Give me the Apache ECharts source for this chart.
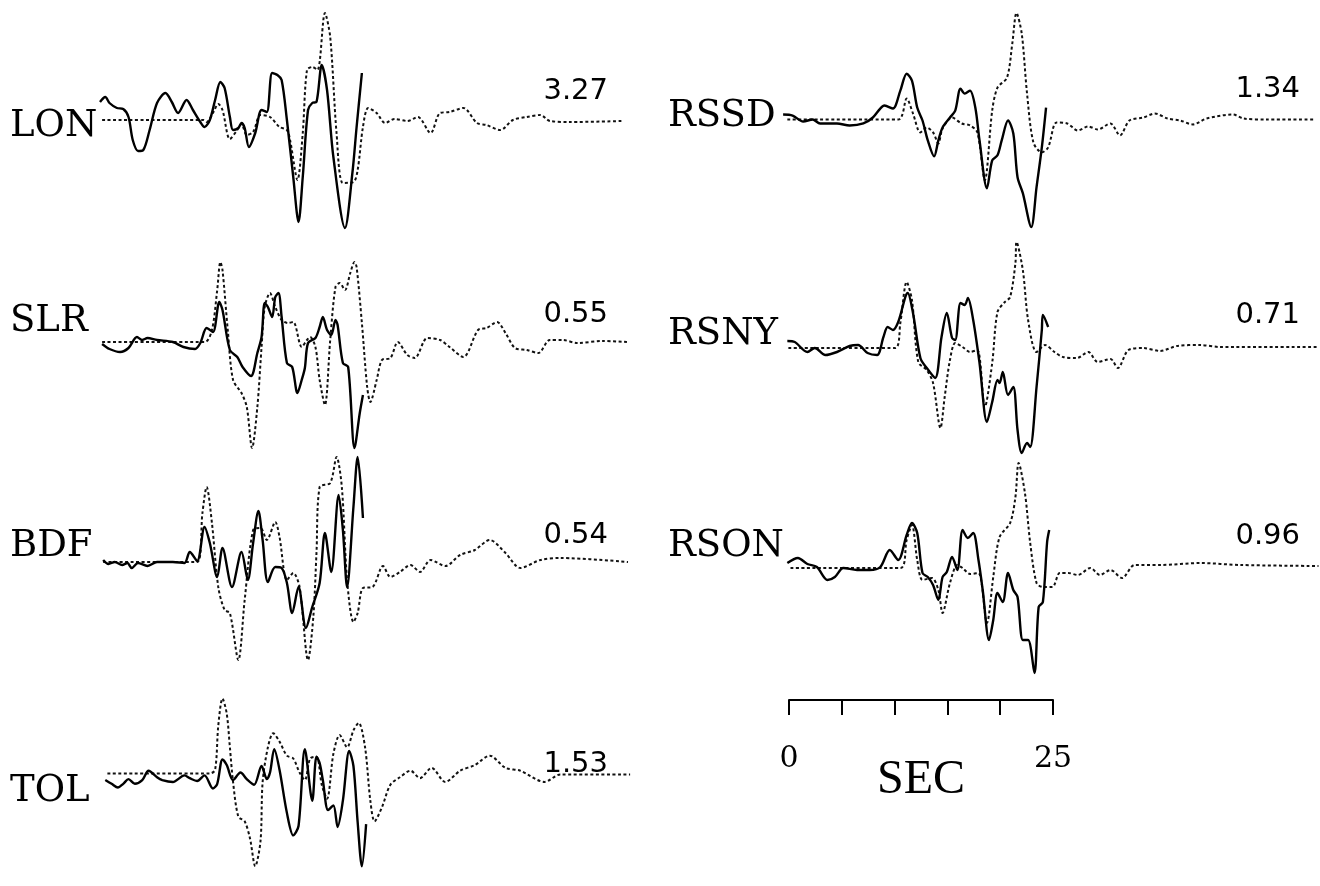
<!DOCTYPE html>
<html>
<head>
<meta charset="utf-8">
<script src="https://cdn.jsdelivr.net/npm/echarts@6/dist/echarts.min.js"></script>
<style>
html,body{margin:0;padding:0;background:#fff;}
#chart{width:1320px;height:886px;}
</style>
</head>
<body>
<div id="chart"></div>
<script>
// ---- DATA: [time (s), relative amplitude] ----
const stations = ['LON','SLR','BDF','TOL','RSSD','RSNY','RSON'];
const amplitudes = ['3.27','0.55','0.54','1.53','1.34','0.71','0.96'];
const scaleTickLabels = ['0','25'];
const scaleName = 'SEC';

const lonSolid = [[0.0,18],[0.5,23],[0.9,17],[1.6,12],[2.2,11],[2.7,3],[3.1,-20],[3.6,-31],[4.1,-30],[4.7,-10],[5.4,17],[6.2,27],[6.8,18],[7.4,7],[8.2,20],[8.8,10],[9.5,-2],[9.9,-7],[10.4,0],[10.9,20],[11.4,38],[11.8,32],[12.3,3],[12.6,-10],[13.1,-8],[13.4,-3],[13.7,-8],[14.1,-27],[14.7,-13],[15.3,10],[15.8,8],[16.3,47],[16.8,45],[17.2,40],[17.7,0],[18.3,-57],[18.8,-102],[19.2,-57],[19.7,10],[20.1,17],[20.5,18],[21.0,55],[21.5,30],[22.1,-37],[23.2,-108],[23.9,-53],[24.3,-7],[24.8,47]];
const lonDotted = [[0.2,0],[9.8,0],[10.1,-2],[10.7,7],[11.2,16],[11.6,10],[12.3,-19],[13.0,-10],[13.4,-4],[13.9,-15],[14.5,-12],[15.2,5],[16.1,3],[17.0,-7],[17.7,-10],[18.0,-20],[18.7,-60],[19.2,-13],[19.6,50],[20.1,53],[20.6,50],[21.3,107],[21.8,83],[22.4,-13],[23.0,-63],[24.0,-62],[24.4,-50],[24.9,-7],[25.4,12],[26.2,7],[27.0,-3],[27.9,1],[29.1,-1],[30.1,3],[31.3,-13],[32.2,7],[33.1,8],[34.4,12],[35.7,-3],[36.6,-5],[37.9,-10],[39.1,0],[40.4,3],[41.7,5],[42.6,-1],[44.5,-2],[49.5,-1]];

const slrSolid = [[0.2,-2],[0.9,-7],[1.9,-10],[2.7,-6],[3.5,5],[4.0,2],[4.5,4],[5.4,2],[6.9,0],[7.9,-5],[9.0,-7],[9.5,-1],[10.1,14],[10.7,10],[11.3,40],[11.6,32],[12.3,-8],[13.0,-15],[13.5,-25],[14.3,-34],[14.9,-11],[15.3,5],[15.6,39],[15.9,35],[16.3,25],[16.6,45],[16.9,49],[17.2,25],[17.7,-21],[18.2,-25],[18.7,-51],[19.1,-38],[19.4,-26],[19.7,-1],[20.4,4],[20.8,15],[21.1,25],[21.5,12],[21.9,7],[22.3,22],[22.5,17],[23.0,-21],[23.5,-25],[24.1,-106],[24.6,-71],[24.9,-53]];
const slrDotted = [[0.2,0],[9.9,0],[10.6,12],[11.1,52],[11.4,80],[11.6,72],[12.1,12],[12.6,-38],[13.4,-51],[13.9,-65],[14.4,-106],[14.9,-65],[15.3,-5],[15.6,35],[16.1,49],[16.6,35],[17.2,22],[17.8,19],[18.3,20],[19.1,-5],[19.6,2],[19.9,5],[20.4,-5],[20.8,-38],[21.3,-63],[21.8,2],[22.3,55],[22.7,59],[23.2,52],[23.7,69],[24.1,80],[24.3,75],[24.8,19],[25.3,-45],[25.6,-60],[26.2,-38],[26.7,-18],[27.5,-16],[28.2,0],[29.1,-13],[29.8,-16],[31.0,4],[32.2,2],[33.1,-5],[34.4,-15],[35.8,12],[36.6,14],[37.6,20],[38.4,9],[39.3,-6],[40.4,-8],[41.5,-11],[42.6,2],[43.8,2],[45.2,-1],[47.6,1],[49.9,0]];

const bdfSolid = [[0.3,2],[0.8,-2],[1.4,0],[2.1,-3],[2.6,-1],[3.0,-6],[3.6,-1],[4.5,-4],[5.4,0],[6.9,0],[8.0,-1],[8.5,10],[9.2,1],[9.9,35],[10.4,19],[11.1,-15],[11.6,14],[12.5,-25],[13.4,10],[14.0,-18],[14.5,19],[15.0,51],[15.4,22],[15.9,-20],[16.6,-5],[17.2,-6],[17.7,-21],[18.2,-51],[18.8,-25],[19.5,-66],[20.1,-45],[20.8,-21],[21.3,29],[21.9,-10],[22.6,67],[23.0,32],[23.4,-25],[24.0,55],[24.4,105],[24.9,44]];
const bdfDotted = [[0.3,0],[9.2,0],[9.7,49],[10.1,75],[10.6,39],[11.2,-25],[11.8,-48],[12.3,-51],[13.1,-98],[13.7,-38],[14.5,32],[15.2,34],[15.8,22],[16.6,40],[17.0,25],[17.7,-18],[18.3,-11],[18.9,-25],[19.7,-98],[20.2,-55],[20.5,9],[20.8,75],[21.8,79],[22.4,105],[22.9,75],[23.4,-18],[24.0,-60],[24.4,-51],[24.9,-26],[25.8,-25],[26.8,-4],[27.5,-15],[28.4,-10],[29.4,-3],[30.3,-10],[31.3,2],[32.7,-4],[34.1,7],[35.5,12],[36.9,22],[38.4,9],[39.8,-6],[41.7,2],[43.6,4],[50.0,0]];

const tolSolid = [[0.5,-7],[1.1,-11],[1.7,-15],[2.2,-11],[2.7,-6],[3.3,-11],[4.0,-7],[4.6,3],[5.4,-4],[5.9,-7],[6.9,-9],[8.0,-2],[8.5,-5],[9.2,-8],[9.9,-2],[10.7,-16],[11.1,-11],[11.6,15],[12.0,9],[12.6,-7],[13.3,1],[13.9,-6],[14.6,-12],[15.3,8],[15.8,-6],[16.1,1],[16.5,26],[17.0,4],[17.7,-42],[18.3,-66],[18.8,-56],[19.4,26],[20.1,-29],[20.5,18],[20.8,11],[21.1,-7],[21.6,-39],[22.1,-34],[22.5,-57],[23.0,-29],[23.6,24],[24.0,8],[24.4,-52],[24.8,-99],[25.2,-54]];
const tolDotted = [[0.7,0],[10.4,0],[10.9,4],[11.2,51],[11.6,80],[12.0,64],[12.3,28],[12.6,-9],[13.1,-46],[13.7,-51],[14.2,-69],[14.7,-99],[15.2,-72],[15.4,-9],[15.9,28],[16.4,43],[17.0,34],[17.7,19],[18.3,16],[18.9,1],[19.4,-7],[19.9,16],[20.5,18],[21.0,-12],[21.5,-27],[22.1,21],[22.7,41],[23.4,28],[24.0,46],[24.5,54],[25.1,28],[25.6,-29],[26.0,-51],[26.7,-36],[27.5,-12],[28.4,-4],[29.4,3],[30.3,-5],[31.4,6],[32.7,-9],[34.1,3],[35.5,9],[36.9,19],[38.4,6],[39.8,3],[42.1,-9],[43.6,-1],[50.2,-1]];

const rssdSolid = [[0.2,5],[1.1,4],[2.1,-2],[3.0,0],[3.7,-4],[5.3,-4],[6.5,-6],[7.8,-4],[8.7,2],[9.4,11],[9.8,14],[10.6,11],[11.3,29],[11.9,46],[12.4,39],[12.9,12],[13.4,-1],[13.9,-21],[14.5,-37],[14.9,-21],[15.3,-8],[16.0,2],[16.5,9],[17.0,31],[17.4,26],[17.9,29],[18.4,12],[18.8,-21],[19.5,-69],[20.0,-41],[20.5,-36],[20.9,-21],[21.5,-1],[22.0,-14],[22.4,-58],[22.9,-74],[23.7,-108],[24.2,-68],[24.7,-28],[25.1,12]];
const rssdDotted = [[0.6,0],[11.1,0],[11.9,21],[12.5,6],[13.2,-13],[13.8,-8],[14.4,-13],[14.9,-24],[15.3,-9],[16.2,2],[17.1,-4],[17.9,-6],[18.6,-13],[19.3,-61],[20.0,9],[20.5,32],[21.4,42],[21.9,76],[22.3,107],[22.8,86],[23.3,26],[23.9,-23],[24.7,-33],[25.3,-28],[26.1,-3],[27.1,-4],[28.1,-11],[29.1,-7],[30.0,-10],[31.2,-4],[32.1,-16],[33.0,-1],[34.3,2],[35.4,6],[36.6,1],[37.8,-1],[39.0,-5],[40.3,1],[42.8,5],[43.8,1],[46.0,0],[50.4,0]];

const rsnySolid = [[0.6,7],[1.3,6],[2.5,-4],[3.2,0],[4.2,-7],[5.3,-4],[6.5,2],[7.3,3],[8.2,-5],[9.1,-7],[9.7,11],[10.1,21],[10.6,18],[11.1,26],[12.0,55],[12.5,35],[13.2,-10],[13.8,-20],[14.6,-30],[15.2,11],[15.7,35],[16.2,10],[16.5,8],[17.0,45],[17.4,43],[17.7,50],[18.2,28],[18.8,-15],[19.5,-74],[20.0,-54],[20.5,-32],[20.7,-35],[21.0,-24],[21.5,-47],[22.0,-39],[22.4,-82],[22.8,-105],[23.3,-95],[23.6,-99],[24.2,-39],[24.7,18],[24.8,33],[25.3,21]];
const rsnyDotted = [[0.7,0],[10.8,0],[11.3,25],[11.9,66],[12.4,48],[13.0,-14],[13.8,-22],[14.4,-35],[15.1,-80],[15.5,-49],[16.0,-12],[16.5,5],[17.2,1],[17.9,-4],[18.6,-2],[19.3,-59],[20.0,-15],[20.5,36],[21.2,46],[21.7,51],[22.2,85],[22.3,106],[22.9,78],[23.4,28],[24.2,-4],[25.0,3],[25.9,-4],[26.7,-9],[28.0,-10],[29.1,-4],[30.0,-14],[31.2,-11],[31.9,-20],[32.9,-2],[34.3,0],[35.9,-3],[37.5,2],[39.7,3],[41.6,1],[50.8,1]];

const rsonSolid = [[0.6,5],[1.6,10],[2.5,4],[3.4,1],[4.4,-12],[5.1,-9],[5.9,0],[7.2,-2],[8.4,-2],[9.4,1],[10.3,18],[11.1,8],[11.9,33],[12.4,45],[12.9,35],[13.4,-5],[13.9,-9],[14.4,-17],[14.9,-32],[15.3,-9],[15.7,-4],[16.2,11],[16.7,-2],[17.2,38],[17.7,30],[18.2,35],[18.7,8],[19.1,-22],[19.7,-72],[20.1,-52],[20.5,-25],[21.0,-34],[21.5,-5],[22.0,-22],[22.4,-29],[22.9,-72],[23.4,-72],[24.0,-105],[24.4,-39],[24.8,-34],[25.2,26],[25.4,38]];
const rsonDotted = [[0.9,0],[11.3,0],[11.9,28],[12.4,43],[12.9,8],[13.4,-12],[14.3,-10],[14.9,-22],[15.3,-45],[16.0,-15],[16.7,3],[17.2,0],[17.9,-6],[18.7,-5],[19.5,-55],[20.1,-9],[20.7,31],[21.7,45],[22.2,71],[22.5,105],[23.1,75],[23.6,25],[24.2,-15],[24.8,-19],[25.7,-19],[26.4,-5],[27.2,-5],[28.1,-7],[29.3,0],[30.2,-7],[31.2,-2],[32.3,-10],[33.5,3],[35.9,3],[39.7,5],[43.5,3],[50.9,2]];

const solidTraces = [lonSolid, slrSolid, bdfSolid, tolSolid, rssdSolid, rsnySolid, rsonSolid];
const dottedTraces = [lonDotted, slrDotted, bdfDotted, tolDotted, rssdDotted, rsnyDotted, rsonDotted];

// ---- LAYOUT ----
const pxPerSec = 10.56;
const spanSec = 51;
const ampRange = 120;
const layout = [
  {left:100, base:120, labelY:130, ampY:93},
  {left:100, base:342, labelY:325, ampY:316},
  {left:100, base:562, labelY:550, ampY:537},
  {left:100, base:781, labelY:795, ampY:766},
  {left:781, base:119, labelY:120, ampY:91},
  {left:781, base:348, labelY:338, ampY:317},
  {left:781, base:568, labelY:550, ampY:538}
];

const grids = [], xAxes = [], yAxes = [], series = [], graphics = [];
layout.forEach((L, i) => {
  grids.push({left: L.left, top: L.base - ampRange, width: spanSec * pxPerSec, height: ampRange * 2});
  xAxes.push({type:'value', gridIndex:i, min:0, max:spanSec, show:false});
  yAxes.push({type:'value', gridIndex:i, min:-ampRange, max:ampRange, show:false});
  series.push({
    type:'line', xAxisIndex:i, yAxisIndex:i, data: dottedTraces[i], showSymbol:false, smooth:0.3,
    lineStyle:{color:'#111', width:2, type:[3,2.5]}, z:2
  });
  series.push({
    type:'line', xAxisIndex:i, yAxisIndex:i, data: solidTraces[i], showSymbol:false, smooth:0.3,
    lineStyle:{color:'#000', width:2.4}, z:3
  });
  const isLeft = L.left < 400;
  graphics.push({
    type:'text', left: isLeft ? 10 : 668, top: L.labelY - 22,
    style:{text: stations[i], font:'37px "DejaVu Serif"', fill:'#000'}
  });
  graphics.push({
    type:'text', right: isLeft ? 1320 - 608 : 20, top: L.ampY - 16,
    style:{text: amplitudes[i], font:'29px "DejaVu Sans"', fill:'#000'}
  });
});

// scale bar grid
const sIdx = layout.length;
grids.push({left:789, top:600, width:264, height:100});
xAxes.push({
  type:'value', gridIndex:sIdx, min:0, max:25, interval:5, position:'bottom',
  axisLine:{show:true, lineStyle:{color:'#000', width:2}},
  axisTick:{show:true, length:15, lineStyle:{color:'#000', width:2}},
  splitLine:{show:false},
  axisLabel:{show:true, margin:44, color:'#000', fontFamily:'DejaVu Serif', fontSize:30,
    formatter: v => (v === 0 ? scaleTickLabels[0] : (v === 25 ? scaleTickLabels[1] : ''))},
  name: scaleName, nameLocation:'middle', nameGap:56, nameMoveOverlap:false,
  nameTextStyle:{color:'#000', fontFamily:'Liberation Serif', fontSize:48}
});
yAxes.push({type:'value', gridIndex:sIdx, show:false});

const chart = echarts.init(document.getElementById('chart'));
chart.setOption({
  animation:false,
  backgroundColor:'#fff',
  grid: grids, xAxis: xAxes, yAxis: yAxes, series: series,
  graphic: graphics
});
</script>
</body>
</html>
